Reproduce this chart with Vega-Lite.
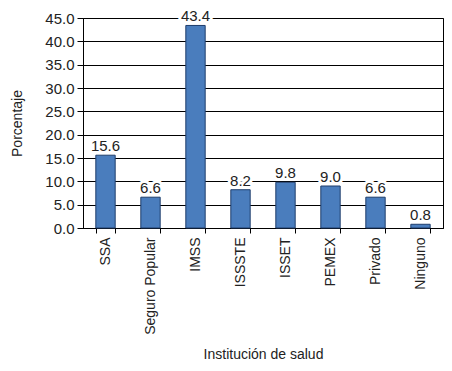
{
  "$schema": "https://vega.github.io/schema/vega-lite/v6.json",
  "width": 360,
  "height": 210,
  "autosize": {"type": "none"},
  "padding": {"left": 83, "top": 18, "right": 9, "bottom": 143},
  "background": "white",
  "config": {
    "view": {"stroke": "black", "strokeWidth": 1},
    "font": "Liberation Sans"
  },
  "data": {
    "values": [
      {"inst": "SSA", "pct": 15.6},
      {"inst": "Seguro Popular", "pct": 6.6},
      {"inst": "IMSS", "pct": 43.4},
      {"inst": "ISSSTE", "pct": 8.2},
      {"inst": "ISSET", "pct": 9.8},
      {"inst": "PEMEX", "pct": 9.0},
      {"inst": "Privado", "pct": 6.6},
      {"inst": "Ninguno", "pct": 0.8}
    ]
  },
  "encoding": {
    "x": {
      "field": "inst", "type": "nominal", "sort": null,
      "scale": {"paddingInner": 0.57, "paddingOuter": 0.285},
      "axis": {
        "title": "Institución de salud",
        "titleFontSize": 14, "titleFontWeight": "normal", "titleColor": "#222",
        "titlePadding": 13,
        "labelAngle": -90, "labelAlign": "right", "labelBaseline": "middle",
        "labelFontSize": 14, "labelColor": "#222", "labelPadding": 4,
        "tickBand": "extent", "tickColor": "black", "tickSize": 5,
        "domainColor": "black"
      }
    },
    "y": {
      "field": "pct", "type": "quantitative",
      "scale": {"domain": [0, 45], "nice": false},
      "axis": {
        "title": "Porcentaje",
        "titleFontSize": 14, "titleFontWeight": "normal", "titleColor": "#222",
        "titlePadding": 20,
        "values": [0, 5, 10, 15, 20, 25, 30, 35, 40, 45],
        "format": ".1f",
        "labelFontSize": 15, "labelColor": "#222", "labelPadding": 3,
        "grid": true, "gridColor": "black", "gridOpacity": 1,
        "tickColor": "black", "tickSize": 6, "domainColor": "black"
      }
    }
  },
  "layer": [
    {
      "mark": {"type": "bar", "fill": "#4a7dbd", "stroke": "#1e3d6b", "strokeWidth": 1}
    },
    {
      "mark": {"type": "text", "dy": -9, "fontSize": 15, "stroke": "white", "strokeWidth": 6, "strokeJoin": "round", "fill": "white"},
      "encoding": {"text": {"field": "pct", "type": "quantitative", "format": ".1f"}}
    },
    {
      "mark": {"type": "text", "dy": -9, "fontSize": 15, "fill": "#222"},
      "encoding": {"text": {"field": "pct", "type": "quantitative", "format": ".1f"}}
    }
  ]
}
